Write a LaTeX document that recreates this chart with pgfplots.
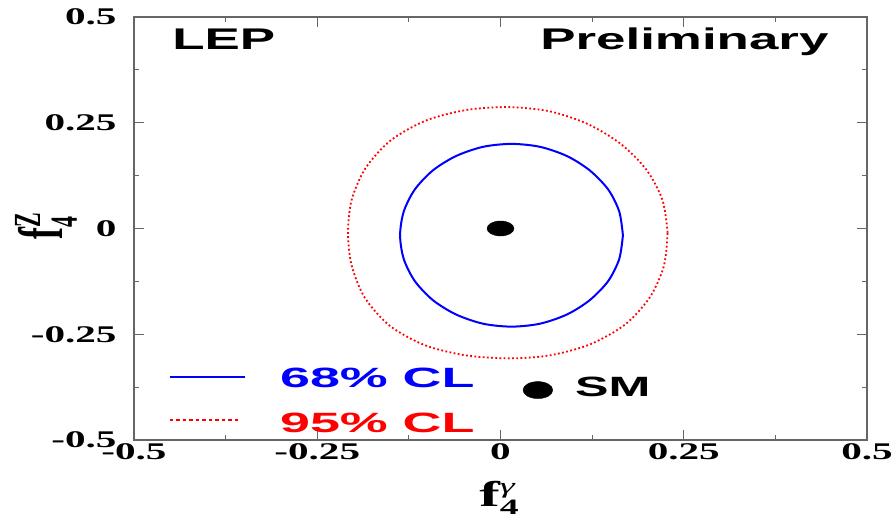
\documentclass[border=0pt]{standalone}
\usepackage{fontspec}
\setmainfont{Liberation Serif}
\newfontfamily\hv{Liberation Sans}
\usepackage{graphicx}
\usepackage{pgfplots}
\pgfplotsset{compat=1.18}
\newcommand{\sx}[1]{\scalebox{1.72}[1]{#1}}
\begin{document}
\begin{tikzpicture}
\path[use as bounding box] (0,0) rectangle (893bp,518bp);
\begin{axis}[
  at={(134bp,78bp)}, anchor=south west,
  scale only axis, width=733bp, height=423bp,
  xmin=-0.5, xmax=0.5, ymin=-0.5, ymax=0.5,
  xtick={-0.5,-0.25,0,0.25,0.5}, ytick={-0.5,-0.25,0,0.25,0.5},
  xticklabels={\sx{-0.5},\sx{-0.25},\sx{0},\sx{0.25},\sx{0.5}},
  yticklabels={\sx{-0.5},\sx{-0.25},\sx{0},\sx{0.25},\sx{0.5}},
  minor tick num=1,
  major tick length=10bp, minor tick length=5bp,
  tick align=inside,
  axis line style={draw=black!60, line width=1.2bp},
  tick style={black!60, line width=1bp},
  tick label style={font=\fontsize{24}{24}\selectfont\bfseries},
  yticklabel style={xshift=-14bp},
  clip=false,
]
% 68% CL contour
\addplot[blue, line width=2bp, smooth] coordinates {
 (0.167,-0.016) (0.162,0.040) (0.147,0.092) (0.122,0.137) (0.091,0.171) (0.054,0.193)
 (0.015,0.200) (-0.024,0.193) (-0.061,0.171) (-0.0925,0.137) (-0.117,0.092) (-0.132,0.040)
 (-0.137,-0.016) (-0.132,-0.072) (-0.117,-0.124) (-0.0925,-0.169) (-0.061,-0.203) (-0.024,-0.225)
 (0.015,-0.232) (0.054,-0.225) (0.091,-0.203) (0.122,-0.169) (0.147,-0.124) (0.162,-0.072)
 (0.167,-0.016)};
% 95% CL contour
\addplot[red, line width=1.8bp, dash pattern=on 1.8bp off 2.4bp, smooth] coordinates {
 (0.228,-0.010) (0.221,0.067) (0.199,0.139) (0.164,0.200) (0.119,0.247) (0.067,0.277)
 (0.010,0.287) (-0.047,0.280) (-0.102,0.255) (-0.150,0.208) (-0.184,0.143) (-0.203,0.068)
 (-0.208,-0.010) (-0.203,-0.088) (-0.185,-0.164) (-0.151,-0.230) (-0.103,-0.276) (-0.047,-0.300)
 (0.012,-0.307) (0.067,-0.300) (0.122,-0.274) (0.170,-0.227) (0.204,-0.162) (0.223,-0.088)
 (0.228,-0.010)};
% SM point
\addplot[only marks, mark=*, mark size=7.5bp, mark options={xscale=1.8, draw=black, fill=black}] coordinates {(0,0)};
% SM legend marker
\addplot[only marks, mark=*, mark size=8.5bp, mark options={xscale=1.75, draw=black, fill=black}] coordinates {(0.051,-0.382)};
% legend
\draw[blue, line width=1.6bp] (axis cs:-0.451,-0.351) -- (axis cs:-0.349,-0.351);
\draw[red, line width=1.6bp, dash pattern=on 3.5bp off 3bp] (axis cs:-0.451,-0.453) -- (axis cs:-0.355,-0.453);
\node[anchor=base west, inner sep=0, text=blue] at (axis cs:-0.301,-0.375) {\fontsize{28}{28}\selectfont\hv\bfseries\scalebox{1.93}[1]{68\% CL}};
\node[anchor=base west, inner sep=0, text=red] at (axis cs:-0.301,-0.483) {\fontsize{28}{28}\selectfont\hv\bfseries\scalebox{1.93}[1]{95\% CL}};
\node[anchor=base west, inner sep=0] at (axis cs:0.1016,-0.398) {\fontsize{28}{28}\selectfont\hv\bfseries\scalebox{1.8}[1]{SM}};
\node[anchor=base west, inner sep=0] at (axis cs:-0.448,0.422) {\fontsize{30}{30}\selectfont\hv\bfseries\scalebox{1.77}[1]{LEP}};
\node[anchor=base west, inner sep=0] at (axis cs:0.054,0.422) {\fontsize{30}{30}\selectfont\hv\bfseries\scalebox{1.77}[1]{Preliminary}};
\end{axis}
% axis labels
\node at (499bp,20bp) {\fontsize{36}{36}\selectfont\sx{\bfseries f\rlap{\raisebox{13bp}{\fontsize{22}{22}\selectfont\mdseries\itshape γ}}\raisebox{-8bp}{\fontsize{22}{22}\selectfont 4}}};
\node[rotate=90] at (46bp,290bp) {\fontsize{36}{36}\selectfont\scalebox{1}[1.75]{\bfseries f\rlap{\raisebox{13bp}{\fontsize{22}{22}\selectfont Z}}\raisebox{-8bp}{\fontsize{22}{22}\selectfont 4}}};
\end{tikzpicture}
\end{document}
